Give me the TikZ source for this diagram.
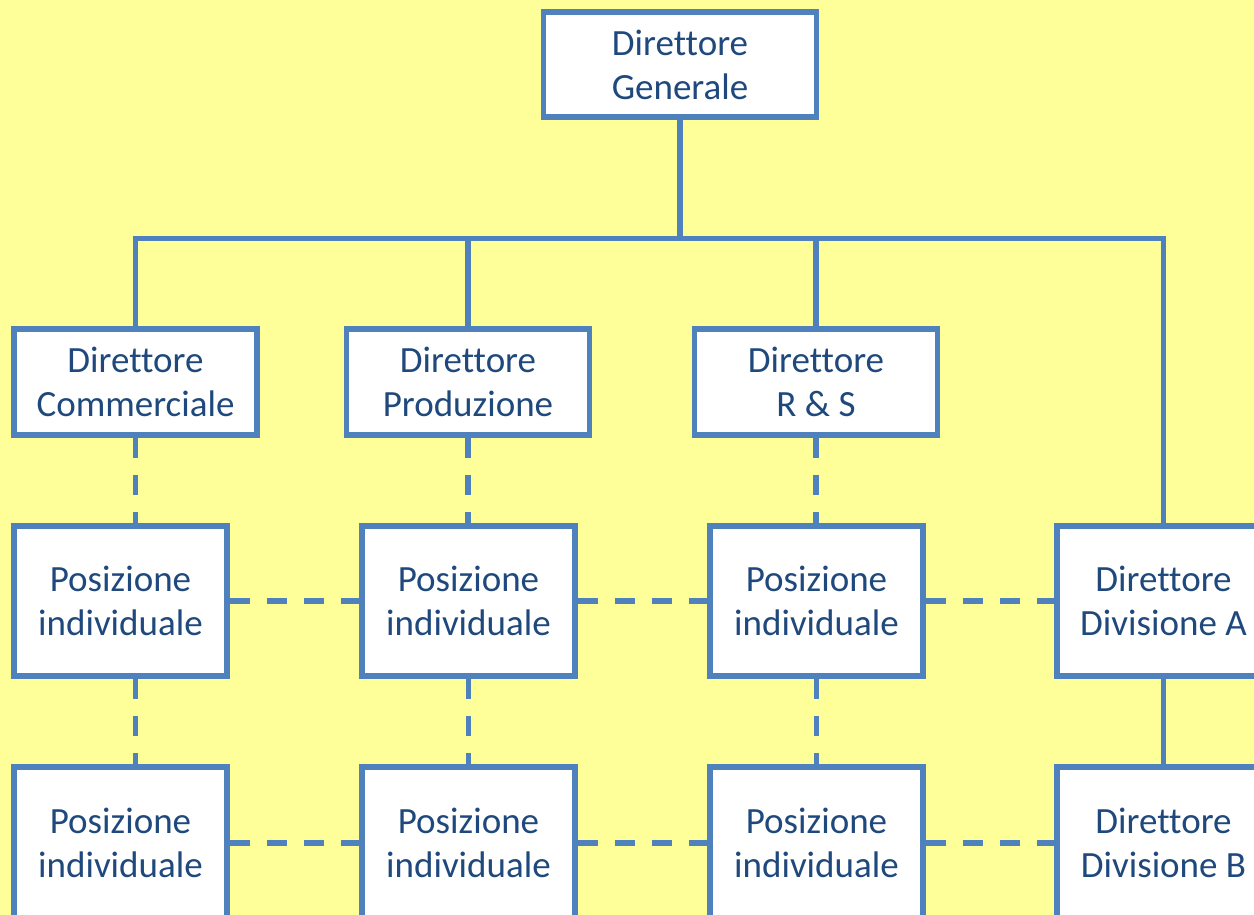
\documentclass[tikz,border=0pt]{standalone}
\usepackage{fontspec}
\setmainfont{Carlito}[Ligatures=NoCommon]
\definecolor{bgyellow}{RGB}{255,255,153}
\definecolor{lineblue}{RGB}{79,129,189}
\definecolor{textblue}{RGB}{31,73,125}
\begin{document}
\begin{tikzpicture}[x=1pt,y=-1pt,
  box/.style={draw=lineblue, line width=5.5pt, fill=white, text=textblue,
    font=\fontsize{37}{44}\selectfont, align=center, inner sep=0pt},
  topbox/.style={box, minimum width=273pt, minimum height=105pt},
  dirbox/.style={box, minimum width=243pt, minimum height=106pt},
  posbox/.style={box, minimum width=213pt, minimum height=150pt},
  solidln/.style={draw=lineblue, line width=5.5pt, line join=miter},
  dashln/.style={draw=lineblue, line width=5.5pt, dash pattern=on 20pt off 17pt}]
\fill[bgyellow] (0,0) rectangle (1254,915);
\useasboundingbox (0,0) rectangle (1254,915);
\clip (0,0) rectangle (1254,915);

\node[topbox] (dg) at (680,64.5) {Direttore\\Generale};
\node[dirbox] (c1) at (135.5,382) {Direttore\\Commerciale};
\node[dirbox] (c2) at (468,382) {Direttore\\Produzione};
\node[dirbox] (c3) at (816,382) {Direttore\\R \& S};

\node[posbox] (p1) at (120.5,601) {Posizione\\individuale};
\node[posbox] (p2) at (468.5,601) {Posizione\\individuale};
\node[posbox] (p3) at (816.5,601) {Posizione\\individuale};
\node[posbox] (da) at (1163.5,601) {Direttore\\Divisione A};

\node[posbox, minimum height=152pt] (q1) at (120.5,843) {Posizione\\individuale};
\node[posbox, minimum height=152pt] (q2) at (468.5,843) {Posizione\\individuale};
\node[posbox, minimum height=152pt] (q3) at (816.5,843) {Posizione\\individuale};
\node[posbox, minimum height=152pt] (db) at (1163.5,843) {Direttore\\Divisione B};

\coordinate (bar) at (680,238.5);

% solid hierarchy
\draw[solidln] (dg.south) -- (bar);
\draw[solidln] (c1.north) -- (c1.north |- bar) -- (da.north |- bar) -- (da.north);
\draw[solidln] (c2.north) -- (c2.north |- bar);
\draw[solidln] (c3.north) -- (c3.north |- bar);
\draw[solidln] (da.south) -- (db.north);

% dashed verticals
\draw[dashln] (c1.south) -- (c1.south |- p1.north);
\draw[dashln] (c1.south |- p1.south) -- (c1.south |- q1.north);
\draw[dashln] (c2.south) -- (c2.south |- p2.north);
\draw[dashln] (p2.south) -- (q2.north);
\draw[dashln] (c3.south) -- (c3.south |- p3.north);
\draw[dashln] (p3.south) -- (q3.north);

% dashed horizontals
\draw[dashln] (p1.east) -- (p2.west);
\draw[dashln] (p2.east) -- (p3.west);
\draw[dashln] (p3.east) -- (da.west);
\draw[dashln] (q1.east) -- (q2.west);
\draw[dashln] (q2.east) -- (q3.west);
\draw[dashln] (q3.east) -- (db.west);
\end{tikzpicture}
\end{document}
